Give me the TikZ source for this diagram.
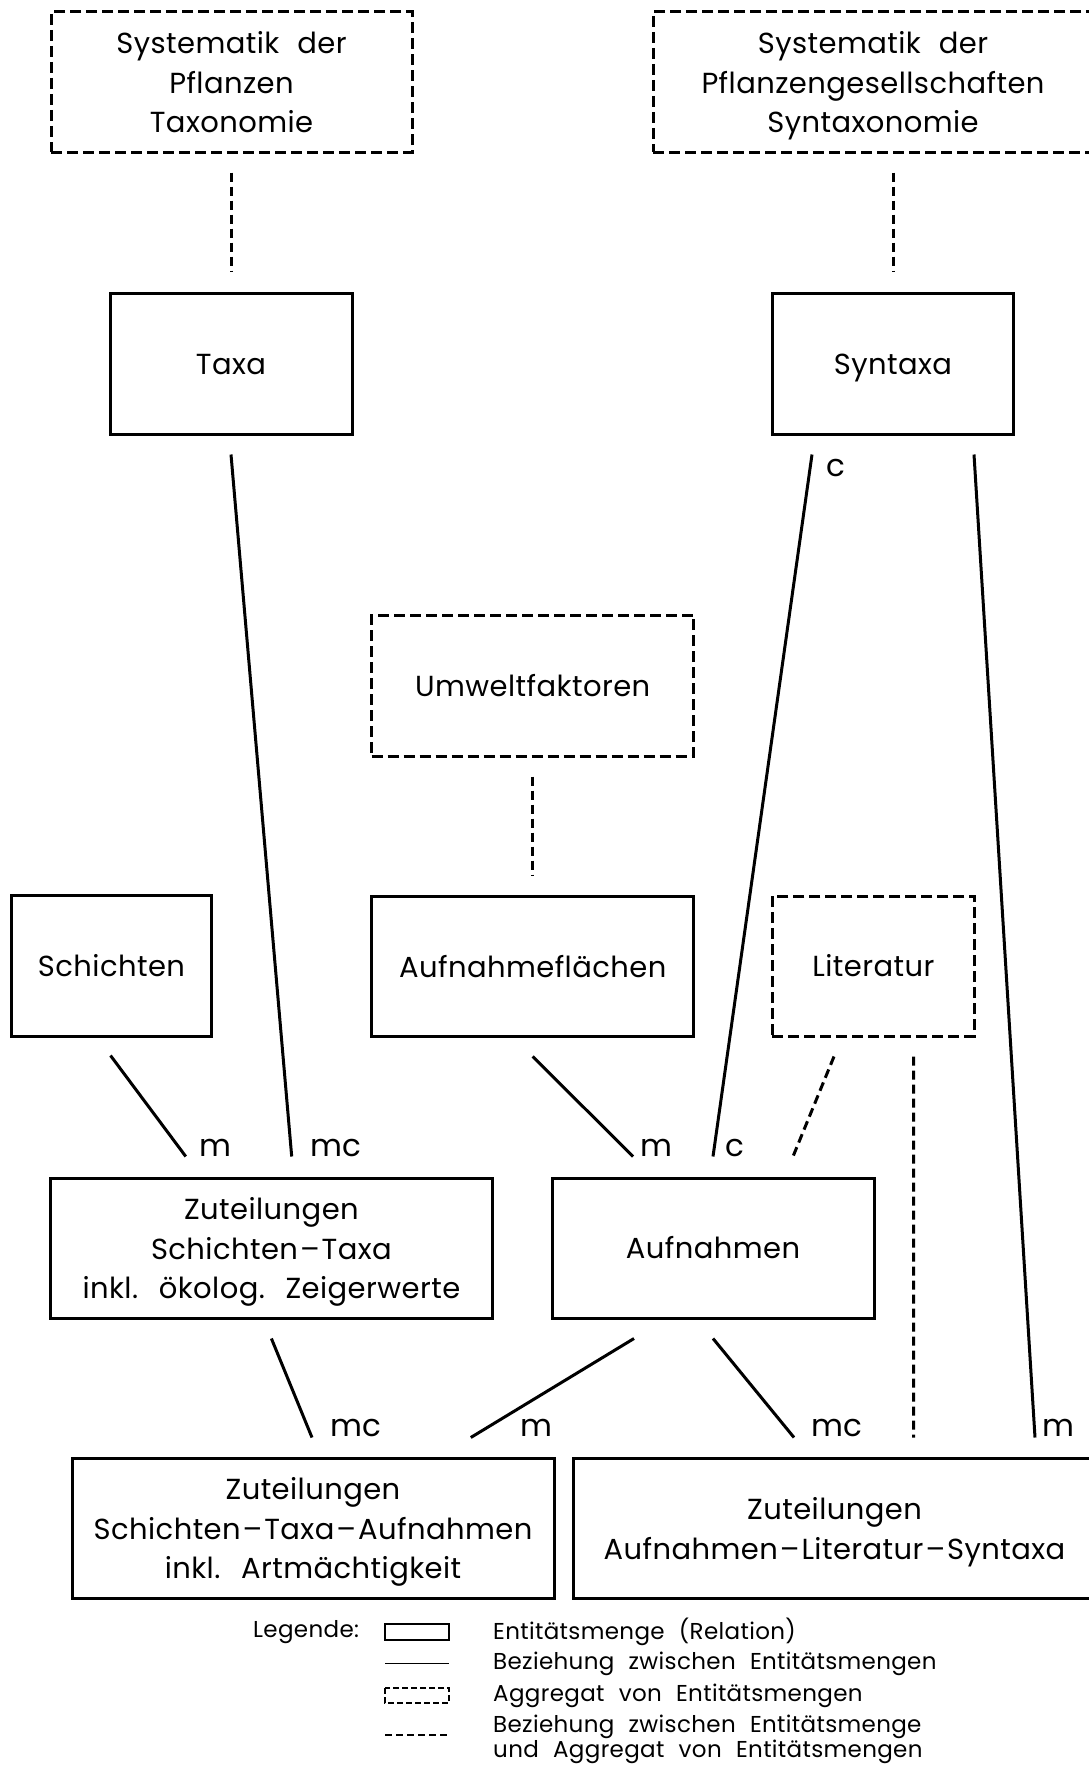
\documentclass[tikz,border=0pt]{standalone}
\usepackage{fontspec}
\setmainfont{Poppins}[LetterSpace=1.5,WordSpace=2.2]
\usetikzlibrary{calc}
\newcommand\mainfs{\fontsize{29}{39.4}\selectfont}
\newcommand\lblfs{\fontsize{31}{36}\selectfont}
\newcommand\legfs{\fontsize{23}{24}\selectfont}
\newcommand\bxstrut{\rule[-9pt]{0pt}{39pt}}
\newcommand\dsh{\kern2pt–\kern2pt}
\begin{document}
\begin{tikzpicture}[x=1pt,y=-1pt,
  boxbase/.style={draw, line width=3pt, inner sep=0pt, align=center, font=\mainfs},
  entity/.style={boxbase, execute at begin node=\bxstrut, execute at end node=\bxstrut},
  entitym/.style={boxbase, text depth=0pt},
  dashedbox/.style={dash pattern=on 11pt off 5pt},
  aggregate/.style={entity, dashedbox},
  aggregatem/.style={entitym, dashedbox},
  rel/.style={line width=3pt},
  aggrel/.style={line width=3pt, dash pattern=on 9pt off 5pt},
  card/.style={anchor=base west, inner sep=0pt, font=\lblfs},
  legtext/.style={anchor=west, inner sep=0pt, font=\legfs, align=left}]
\useasboundingbox (0,0) rectangle (1088,1766);

% aggregates
\node[aggregatem, minimum width=361pt, minimum height=140pt] (sysP) at (231.5,82)
  {Systematik der\\Pflanzen\\Taxonomie};
\node[aggregatem, minimum width=440pt, minimum height=140pt] (sysG) at (873,82)
  {Systematik der\\Pflanzengesellschaften\\Syntaxonomie};
\node[aggregate, minimum width=322pt, minimum height=141pt] (umw) at (532.7,685.5) {Umweltfaktoren};
\node[aggregate, minimum width=202pt, minimum height=140pt] (lit) at (873.4,966) {Literatur};

% entity sets
\node[entity, minimum width=242pt, minimum height=141pt] (taxa) at (231,363.5) {Taxa};
\node[entity, minimum width=241pt, minimum height=141pt] (syn) at (893,363.5) {Syntaxa};
\node[entity, minimum width=200pt, minimum height=141pt] (sch) at (111.5,965.5) {Schichten};
\node[entity, minimum width=322pt, minimum height=140.5pt] (afl) at (532.7,966.7) {Aufnahmeflächen};
\node[entitym, minimum width=441.5pt, minimum height=140pt] (zst) at (271.4,1248)
  {Zuteilungen\\Schichten\dsh Taxa\\inkl. ökolog. Zeigerwerte};
\node[entity, minimum width=322pt, minimum height=140pt] (auf) at (713,1248) {Aufnahmen};
\node[entitym, minimum width=482pt, minimum height=139.4pt] (zsta) at (313,1528.3)
  {Zuteilungen\\Schichten\dsh Taxa\dsh Aufnahmen\\inkl. Artmächtigkeit};
\node[entitym, minimum width=523pt, minimum height=139.4pt] (zals) at (834.5,1528.3)
  {Zuteilungen\\Aufnahmen\dsh Literatur\dsh Syntaxa};

% relationships between entity set and aggregate (dashed)
\draw[aggrel] ($(sysP.south)+(-0.5,19)$) -- ($(taxa.north)+(0,-20)$);
\draw[aggrel] ($(sysG.south)+(20,19)$) -- ($(syn.north)+(0,-20)$);
\draw[aggrel] ($(umw.south)+(0,19)$) -- ($(afl.north)+(0,-20)$);
\draw[aggrel] ($(lit.south)+(-39.4,19)$) -- ($(auf.north)+(80,-20)$);
\draw[aggrel] ($(lit.south)+(40.2,19)$) -- ($(zals.north)+(79,-19.6)$);

% relationships between entity sets
\draw[rel] ($(taxa.south)+(0,19)$) -- ($(zst.north)+(20.3,-20)$);
\draw[rel] ($(sch.south)+(-1,18)$) -- ($(zst.north)+(-85.6,-20)$);
\draw[rel] ($(syn.south)+(-81,19)$) -- ($(auf.north)+(0,-20)$);
\draw[rel] ($(syn.south)+(81,19)$) -- ($(zals.north)+(200.5,-19.6)$);
\draw[rel] ($(afl.south)+(0,18)$) -- ($(auf.north)+(-80,-20)$);
\draw[rel] ($(zst.south)+(0,19)$) -- ($(zsta.north)+(-1,-19.6)$);
\draw[rel] ($(auf.south)+(-79,19)$) -- ($(zsta.north)+(157.8,-19.6)$);
\draw[rel] ($(auf.south)+(0,19)$) -- ($(zals.north)+(-40.5,-19.6)$);

% cardinalities
\node[card] (c1) at ($(zst.north)+(-71.7,-20)$) {m};
\node[card] (c2) at ($(zst.north)+(38.6,-20)$) {mc};
\node[card] (c3) at ($(auf.north)+(-72.5,-20)$) {m};
\node[card] (c4) at ($(auf.north)+(12,-20)$) {c};
\node[card] (c5) at ($(syn.south)+(-67,41)$) {c};
\node[card] (c6) at ($(zsta.north)+(17,-20.6)$) {mc};
\node[card] (c7) at ($(zsta.north)+(207,-20.6)$) {m};
\node[card] (c8) at ($(zals.north)+(-23.5,-20.6)$) {mc};
\node[card] (c9) at ($(zals.north)+(207.5,-20.6)$) {m};

% legend
\node[legtext] (leg) at (253,1632) {Legende:};
\draw[line width=1.8pt] (385,1624) rectangle (449,1640);
\draw[line width=1.8pt] (385,1663.5) -- (449,1663.5);
\draw[line width=1.8pt, dash pattern=on 6pt off 3pt] (385,1688) rectangle (449,1703);
\draw[line width=1.8pt, dash pattern=on 7pt off 4pt] (385,1735) -- (449,1735);
\node[legtext] (l1) at (493,1632) {Entitätsmenge (Relation)};
\node[legtext] (l2) at (493,1663.5) {Beziehung zwischen Entitätsmengen};
\node[legtext] (l3) at (493,1696) {Aggregat von Entitätsmengen};
\node[legtext] (l4) at (493,1726.6) {Beziehung zwischen Entitätsmenge};
\node[legtext] (l5) at (493,1751.4) {und Aggregat von Entitätsmengen};
\end{tikzpicture}
\end{document}
